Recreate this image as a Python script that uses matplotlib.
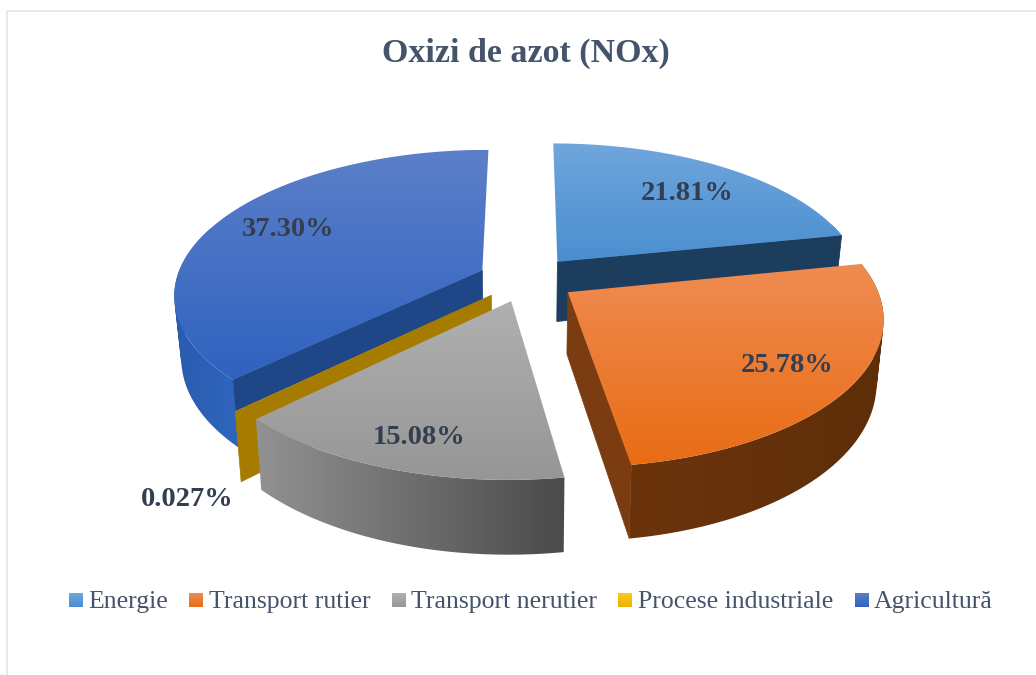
import numpy as np
import matplotlib
matplotlib.use('Agg')
import matplotlib.pyplot as plt
from matplotlib.patches import Polygon, PathPatch
from matplotlib.path import Path
from matplotlib.colors import LinearSegmentedColormap

title = "Oxizi de azot (NOx)"
categories = ["Energie", "Transport rutier", "Transport nerutier", "Procese industriale", "Agricultură"]
values = [21.81, 25.78, 15.08, 0.027, 37.30]
value_labels = ["21.81%", "25.78%", "15.08%", "0.027%", "37.30%"]

# colours per slice: top surface (light, dark), outer wall (left, right), radial wall
top_cols = [("#70A6DC", "#4A8ED0"), ("#EF8C52", "#E96C14"), ("#B0B0B0", "#969696"),
            ("#FFC819", "#EDB100"), ("#5C7FC9", "#2F62BF")]
wall_cols = [("#1F4468", "#1F4468"), ("#6C340D", "#5E2E09"), ("#929292", "#4B4B4B"),
             ("#A67C00", "#A67C00"), ("#2A5CAE", "#2F66BE")]
side_cols = ["#1D3D5F", "#7A3C10", "#6E6E6E", "#A67C00", "#1F4788"]
label_pos = [(687, 194), (787, 365), (419, 437), (187, 500), (288, 230)]
legend_sq = [69, 189, 392, 618, 855]
legend_tx = [88, 209, 411, 638, 874]
draw_order = [0, 4, 3, 2, 1]

# projection of the disc
CX, CY, R, TILT, PERSP, DEPTH, EXPLODE = 527, 279, 306, 0.465, 0.16, 61, 0.16

fig = plt.figure(figsize=(10.36, 6.75), dpi=100)
ax = fig.add_axes([0, 0, 1, 1])
ax.set_xlim(0, 1036)
ax.set_ylim(675, 0)
ax.axis('off')

z = [2]

def next_z():
    z[0] += 1
    return z[0]

def project(X, Y, down=0.0):
    s = 1 / (1 + PERSP * Y)
    x = CX + X * s * R
    if down:
        x = CX + (x - CX) * 0.98
    return x, CY - Y * s * R * TILT + down * s

def signed_area(p):
    return np.sum(p[:, 0] * np.roll(p[:, 1], -1) - np.roll(p[:, 0], -1) * p[:, 1])

def gradient_fill(polys, c1, c2, horizontal=False):
    # polys is a list of polygons, all filled with one gradient
    cmap = LinearSegmentedColormap.from_list('g', [c1, c2])
    allp = np.vstack(polys)
    x0, x1 = allp[:, 0].min(), allp[:, 0].max()
    y0, y1 = allp[:, 1].min(), allp[:, 1].max()
    grad = np.linspace(0, 1, 256)
    grad = grad[None, :] if horizontal else grad[:, None]
    im = ax.imshow(grad, cmap=cmap, extent=[x0, x1, y1, y0], aspect='auto', zorder=next_z(), vmin=0, vmax=1)
    paths = []
    for p in polys:
        p = np.array(p)
        if signed_area(p) < 0:
            p = p[::-1]
        paths.append(Path(np.vstack([p, p[0]]), closed=True))
    patch = PathPatch(Path.make_compound_path(*paths), transform=ax.transData, facecolor='none', edgecolor='none')
    ax.add_patch(patch)
    im.set_clip_path(patch)

fractions = np.array(values) / sum(values)
edges = np.concatenate([[0], np.cumsum(fractions)]) * 2 * np.pi

for i in draw_order:
    a0, a1 = edges[i], edges[i + 1]
    mid = (a0 + a1) / 2
    ox, oy = EXPLODE * np.sin(mid), EXPLODE * np.cos(mid)
    n = max(int((a1 - a0) / np.radians(1.0)), 2)
    th = np.linspace(a0, a1, n)
    rx, ry = ox + np.sin(th), oy + np.cos(th)

    rim_top = np.array([project(x, y) for x, y in zip(rx, ry)])
    rim_bot = np.array([project(x, y, DEPTH) for x, y in zip(rx, ry)])
    apex_top = project(ox, oy)
    apex_bot = project(ox, oy, DEPTH)

    # outer wall, the far part of the rim stays hidden
    quads = [np.array([rim_top[j], rim_top[j + 1], rim_bot[j + 1], rim_bot[j]])
             for j in range(n - 1) if np.cos(th[j]) < 0.3]
    if quads:
        gradient_fill(quads, wall_cols[i][0], wall_cols[i][1], horizontal=True)

    # radial walls, only the ones that face the viewer and are not edge-on
    for k, sign, ang in ((0, -1, a0), (-1, 1, a1)):
        quad = np.array([apex_top, rim_top[k], rim_bot[k], apex_bot])
        if signed_area(quad) * sign > 0 and abs(np.sin(ang)) > 0.1:
            ax.add_patch(Polygon(quad, closed=True, facecolor=side_cols[i], edgecolor=side_cols[i],
                                 linewidth=0.5, zorder=next_z()))

    # top surface
    gradient_fill([np.array([apex_top] + list(rim_top))], top_cols[i][0], top_cols[i][1])

for i, lab in enumerate(value_labels):
    ax.text(label_pos[i][0], label_pos[i][1], lab, ha='center', va='center', fontsize=20.5,
            fontweight='bold', family='Liberation Serif', color='#333F50', zorder=200)

ax.text(526, 53, title, ha='center', va='center', fontsize=24.5, fontweight='bold',
        family='Liberation Serif', color='#44546A', zorder=200)

for i, cat in enumerate(categories):
    sq = np.array([(legend_sq[i], 593), (legend_sq[i] + 14, 593), (legend_sq[i] + 14, 607), (legend_sq[i], 607)])
    gradient_fill([sq], top_cols[i][0], top_cols[i][1])
    ax.text(legend_tx[i], 602, cat, ha='left', va='center', fontsize=18.5,
            family='Liberation Serif', color='#44546A', zorder=200)

# chart frame
ax.plot([7, 7, 1036], [675, 11, 11], color='#E6E8EC', linewidth=1.4, zorder=1)

ax.set_xlim(0, 1036)
ax.set_ylim(675, 0)
plt.savefig('out.png', dpi=100)
plt.close()
